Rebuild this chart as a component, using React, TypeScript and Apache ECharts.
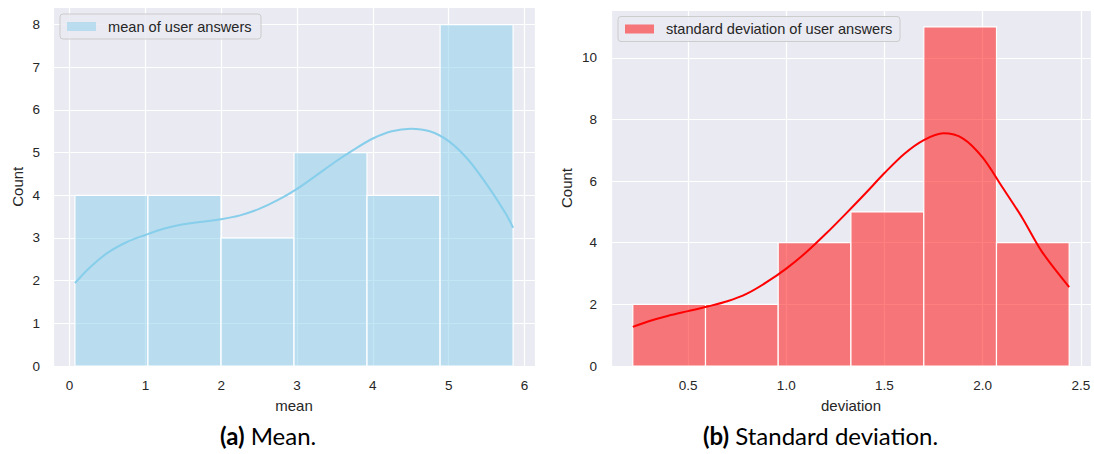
import React, { useEffect, useRef } from "react";
import * as echarts from "echarts";

// ---- data ----
const meanBinEdges = [0.07, 1.033, 1.997, 2.96, 3.923, 4.887, 5.85];
const meanCounts = [4, 4, 3, 5, 4, 8];
const meanKdeX = [0.07, 0.25, 0.5, 0.75, 1.0, 1.25, 1.5, 1.75, 2.0, 2.25, 2.5, 2.75, 3.0, 3.25, 3.5, 3.75, 4.0, 4.25, 4.5, 4.75, 5.0, 5.25, 5.5, 5.75, 5.85];
const meanKdeY = [1.94, 2.28, 2.65, 2.9, 3.07, 3.22, 3.32, 3.38, 3.44, 3.53, 3.68, 3.89, 4.15, 4.46, 4.78, 5.07, 5.33, 5.5, 5.56, 5.5, 5.27, 4.85, 4.26, 3.58, 3.24];

const devBinEdges = [0.219, 0.589, 0.959, 1.329, 1.7, 2.07, 2.44];
const devCounts = [2, 2, 4, 5, 11, 4];
const devKdeX = [0.219, 0.3, 0.4, 0.5, 0.6, 0.7, 0.8, 0.9, 1.0, 1.1, 1.2, 1.3, 1.4, 1.5, 1.6, 1.7, 1.8, 1.9, 2.0, 2.1, 2.2, 2.3, 2.44];
const devKdeY = [1.27, 1.45, 1.63, 1.78, 1.93, 2.1, 2.35, 2.72, 3.16, 3.68, 4.28, 4.92, 5.58, 6.26, 6.88, 7.33, 7.55, 7.38, 6.76, 5.8, 4.82, 3.72, 2.56];

const meanLabel = "mean of user answers";
const devLabel = "standard deviation of user answers";

const FONT = "'Liberation Sans', Arial, sans-serif";
const CAPFONT = "Lato, 'Open Sans', sans-serif";
const TXT = "#262626";

function histData(edges: number[], counts: number[]) {
  return counts.map((c, i) => [edges[i], edges[i + 1], c]);
}

function histSeries(name: string, gridIdx: number, data: number[][], fill: string) {
  return {
    type: "custom",
    name,
    xAxisIndex: gridIdx,
    yAxisIndex: gridIdx,
    data,
    encode: { x: [0, 1], y: 2 },
    renderItem: (params: any, api: any) => {
      const x0 = api.value(0);
      const x1 = api.value(1);
      const c = api.value(2);
      const p0 = api.coord([x0, c]);
      const p1 = api.coord([x1, 0]);
      return {
        type: "rect",
        shape: { x: p0[0], y: p0[1], width: p1[0] - p0[0], height: p1[1] - p0[1] },
        style: { fill, stroke: "#ffffff", lineWidth: 1.2 },
      };
    },
    z: 2,
  };
}

function lineSeries(gridIdx: number, xs: number[], ys: number[], color: string, width: number) {
  return {
    type: "line",
    xAxisIndex: gridIdx,
    yAxisIndex: gridIdx,
    data: xs.map((x, i) => [x, ys[i]]),
    smooth: 0.3,
    showSymbol: false,
    symbol: "none",
    lineStyle: { color, width },
    z: 3,
  };
}

function fmt(step: number, dec: number) {
  return (v: number) => {
    const k = v / step;
    return Math.abs(k - Math.round(k)) < 1e-6 ? v.toFixed(dec) : "";
  };
}

const baseAxis = {
  axisLine: { show: false },
  axisTick: { show: false },
  splitLine: { show: true, lineStyle: { color: "#ffffff", width: 1.2 } },
};

function legendBox(x: number, y: number, w: number, label: string, color: string) {
  return {
    type: "group",
    x,
    y,
    z: 100,
    children: [
      {
        type: "rect",
        z: 100,
        shape: { x: 0, y: 0, width: w, height: 25, r: 3 },
        style: { fill: "rgba(234,234,242,0.85)", stroke: "#cccccc", lineWidth: 1 },
      },
      {
        type: "rect",
        z: 101,
        shape: { x: 7, y: 8, width: 29, height: 9 },
        style: { fill: color },
      },
      {
        type: "text",
        z: 102,
        style: {
          x: 48,
          y: 12.5,
          text: label,
          fill: TXT,
          fontSize: 14.6,
          fontFamily: FONT,
          align: "left",
          verticalAlign: "middle",
        },
      },
    ],
  };
}

function caption(x: number, letter: string, rest: string) {
  return {
    type: "text",
    z: 100,
    style: {
      x,
      y: 435,
      text: `{b|(${letter})}{n| ${rest}}`,
      fill: "#000000",
      verticalAlign: "middle",
      rich: {
        b: { fontWeight: "bold", fontSize: 24, fontFamily: CAPFONT, fill: "#000000" },
        n: { fontSize: 24, fontFamily: CAPFONT, fill: "#000000" },
      },
    },
  };
}

export default function App() {
  const ref = useRef<HTMLDivElement>(null);
  useEffect(() => {
    if (!ref.current) return;
    const chart = echarts.init(ref.current, undefined, { renderer: "svg" });
    const option: any = {
      animation: false,
      backgroundColor: "#ffffff",
      textStyle: { fontFamily: FONT },
      grid: [
        { left: 53, top: 7.5, width: 482, height: 358.5, show: true, backgroundColor: "#EAEAF2", borderWidth: 0 },
        { left: 611, top: 10, width: 480, height: 356, show: true, backgroundColor: "#EAEAF2", borderWidth: 0 },
      ],
      xAxis: [
        {
          ...baseAxis,
          type: "value",
          gridIndex: 0,
          min: -0.219,
          max: 6.139,
          minInterval: 1,
          maxInterval: 1,
          name: "mean",
          nameLocation: "middle",
          nameGap: 32,
          nameTextStyle: { color: TXT, fontSize: 15, fontFamily: FONT },
          axisLabel: { color: TXT, fontSize: 13.5, margin: 12, formatter: fmt(1, 0), fontFamily: FONT },
        },
        {
          ...baseAxis,
          type: "value",
          gridIndex: 1,
          min: 0.108,
          max: 2.551,
          minInterval: 0.5,
          maxInterval: 0.5,
          name: "deviation",
          nameLocation: "middle",
          nameGap: 32,
          nameTextStyle: { color: TXT, fontSize: 15, fontFamily: FONT },
          axisLabel: { color: TXT, fontSize: 13.5, margin: 12, formatter: fmt(0.5, 1), fontFamily: FONT },
        },
      ],
      yAxis: [
        {
          ...baseAxis,
          type: "value",
          gridIndex: 0,
          min: 0,
          max: 8.4,
          minInterval: 1,
          maxInterval: 1,
          name: "Count",
          nameLocation: "middle",
          nameGap: 28,
          nameTextStyle: { color: TXT, fontSize: 15, fontFamily: FONT },
          axisLabel: { color: TXT, fontSize: 13.5, margin: 13, formatter: fmt(1, 0), fontFamily: FONT },
        },
        {
          ...baseAxis,
          type: "value",
          gridIndex: 1,
          min: 0,
          max: 11.55,
          minInterval: 2,
          maxInterval: 2,
          name: "Count",
          nameLocation: "middle",
          nameGap: 37,
          nameTextStyle: { color: TXT, fontSize: 15, fontFamily: FONT },
          axisLabel: { color: TXT, fontSize: 13.5, margin: 14, formatter: fmt(2, 0), fontFamily: FONT },
        },
      ],
      series: [
        histSeries(meanLabel, 0, histData(meanBinEdges, meanCounts), "rgba(135,206,235,0.5)"),
        lineSeries(0, meanKdeX, meanKdeY, "#87CEEB", 2),
        histSeries(devLabel, 1, histData(devBinEdges, devCounts), "rgba(255,0,0,0.5)"),
        lineSeries(1, devKdeX, devKdeY, "#FF0000", 2),
      ],
      graphic: [
        legendBox(60, 14, 201, meanLabel, "rgba(135,206,235,0.5)"),
        legendBox(618, 16.5, 282, devLabel, "rgba(255,0,0,0.5)"),
        caption(220, "a", "Mean."),
        caption(703, "b", "Standard deviation."),
      ],
    };
    chart.setOption(option);
    return () => chart.dispose();
  }, []);
  return <div ref={ref} style={{ position: "fixed", left: 0, top: 0, width: 1094, height: 454 }} />;
}
